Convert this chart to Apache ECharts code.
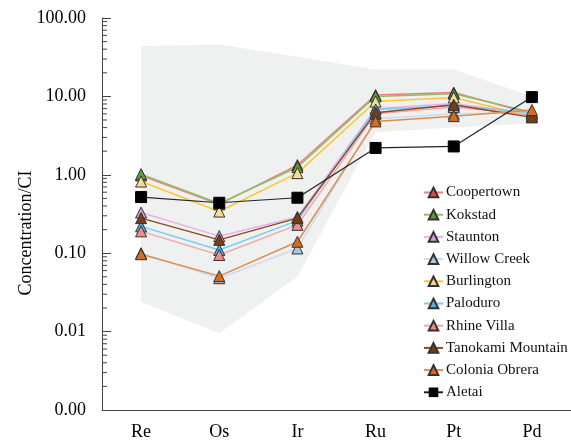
<!DOCTYPE html>
<html>
<head>
<meta charset="utf-8">
<script src="https://cdn.jsdelivr.net/npm/echarts@6/dist/echarts.min.js"></script>
<style>
  html, body { margin: 0; padding: 0; background: #fff; }
  #chart { width: 571px; height: 443px; }
</style>
</head>
<body>
<div id="chart"></div>
<script>
// elements on the x axis
var elements = ['Re', 'Os', 'Ir', 'Ru', 'Pt', 'Pd']

// grey field (upper / lower bound)
var fieldUpper = [44, 46, 32, 22, 22, 10]
var fieldLower = [0.024, 0.0095, 0.05, 3.5, 4, 4.5]

// normalised concentrations
var coopertown = [0.98, 0.42, 1.33, 10.4, 11.2, 6.0]
var kokstad = [1.02, 0.43, 1.25, 10.0, 10.8, 6.3]
var staunton = [0.33, 0.165, 0.29, 7.0, 8.1, 6.0]
var willowCreek = [0.1, 0.048, 0.115, 5.2, 6.0, 6.2]
var burlington = [0.82, 0.34, 1.05, 8.6, 9.7, 5.5]
var paloduro = [0.22, 0.11, 0.26, 6.8, 7.6, 6.2]
var rhineVilla = [0.19, 0.095, 0.23, 6.0, 7.3, 5.8]
var tanokami = [0.28, 0.148, 0.28, 6.2, 7.8, 5.4]
var coloniaObrera = [0.097, 0.051, 0.14, 4.8, 5.6, 6.7]
var aletai = [0.52, 0.44, 0.51, 2.2, 2.3, 9.8]

var yTicks = [0.001, 0.01, 0.1, 1, 10, 100]
var minorSteps = [2, 3, 4, 5, 6, 7, 8, 9]

var chart = echarts.init(document.getElementById('chart'))

function tri(name, data, line, fill) {
  return {
    name: name,
    type: 'line',
    data: data,
    symbol: 'triangle',
    symbolSize: 11,
    z: 3,
    lineStyle: { color: line, width: 1.5 },
    itemStyle: { color: fill, borderColor: '#333', borderWidth: 1 }
  }
}

var series = [
  {
    // grey reference field
    type: 'custom',
    silent: true,
    z: 1,
    data: [[0, 1]],
    renderItem: function (params, api) {
      var pts = []
      fieldUpper.forEach(function (v, i) { pts.push(api.coord([i, v])) })
      for (var i = fieldLower.length - 1; i >= 0; i--) {
        pts.push(api.coord([i, fieldLower[i]]))
      }
      return { type: 'polygon', shape: { points: pts }, style: { fill: '#eff1f1' } }
    }
  },
  {
    // log minor ticks on the y axis
    type: 'custom',
    silent: true,
    z: 5,
    data: [[0, 1]],
    renderItem: function (params, api) {
      var x0 = params.coordSys.x
      var kids = []
      yTicks.slice(0, -1).forEach(function (base) {
        minorSteps.forEach(function (m) {
          var y = api.coord([0, base * m])[1]
          kids.push({
            type: 'line',
            shape: { x1: x0, y1: y, x2: x0 + 5, y2: y },
            style: { stroke: '#444', lineWidth: 1 }
          })
        })
      })
      return { type: 'group', children: kids }
    }
  },
  tri('Coopertown', coopertown, '#f07a7a', '#e84545'),
  tri('Kokstad', kokstad, '#8fbf6a', '#5a9e34'),
  tri('Staunton', staunton, '#ebb0ea', '#d99ad9'),
  tri('Willow Creek', willowCreek, '#c8dcf4', '#a9c6e6'),
  tri('Burlington', burlington, '#ffc533', '#f6dc90'),
  tri('Paloduro', paloduro, '#79cbf2', '#52b3e8'),
  tri('Rhine Villa', rhineVilla, '#f5a8a8', '#f28c8c'),
  tri('Tanokami Mountain', tanokami, '#8c4a1e', '#7a3c12'),
  tri('Colonia Obrera', coloniaObrera, '#e38a4c', '#d76b1f'),
  {
    name: 'Aletai',
    type: 'line',
    data: aletai,
    symbol: 'rect',
    symbolSize: 11,
    z: 4,
    lineStyle: { color: '#222', width: 1.2 },
    itemStyle: { color: '#000', borderColor: '#000' }
  }
]

chart.setOption({
  animation: false,
  textStyle: { fontFamily: 'Liberation Serif' },
  grid: { left: 102, top: 18, right: -5, bottom: 33 },
  legend: {
    orient: 'vertical',
    left: 423,
    top: 185,
    padding: 0,
    itemWidth: 19,
    itemHeight: 12,
    itemGap: 7.2,
    textStyle: { fontFamily: 'Liberation Serif', fontSize: 15, color: '#111', padding: [0, 0, 0, -2] },
    data: ['Coopertown', 'Kokstad', 'Staunton', 'Willow Creek', 'Burlington',
      'Paloduro', 'Rhine Villa', 'Tanokami Mountain', 'Colonia Obrera', 'Aletai']
  },
  xAxis: {
    type: 'category',
    data: elements,
    axisLine: { lineStyle: { color: '#444', width: 1 } },
    axisTick: { inside: true, alignWithLabel: true, length: 5, lineStyle: { color: '#444' } },
    axisLabel: { fontFamily: 'Liberation Serif', fontSize: 18, color: '#000', margin: 13 }
  },
  yAxis: {
    type: 'log',
    logBase: 10,
    min: yTicks[0],
    max: yTicks[yTicks.length - 1],
    name: 'Concentration/CI',
    nameLocation: 'middle',
    nameGap: 67,
    nameMoveOverlap: false,
    nameTextStyle: { fontFamily: 'Liberation Serif', fontSize: 18, color: '#000', padding: [0, 38, 0, 0] },
    splitLine: { show: false },
    axisLine: { show: true, lineStyle: { color: '#444', width: 1 } },
    axisTick: { show: true, inside: true, length: 9, lineStyle: { color: '#444' } },
    minorTick: { show: false },
    axisLabel: {
      fontFamily: 'Liberation Serif',
      fontSize: 18,
      color: '#000',
      margin: 16,
      formatter: function (v) { return v.toFixed(2) }
    }
  },
  series: series
})
</script>
</body>
</html>
